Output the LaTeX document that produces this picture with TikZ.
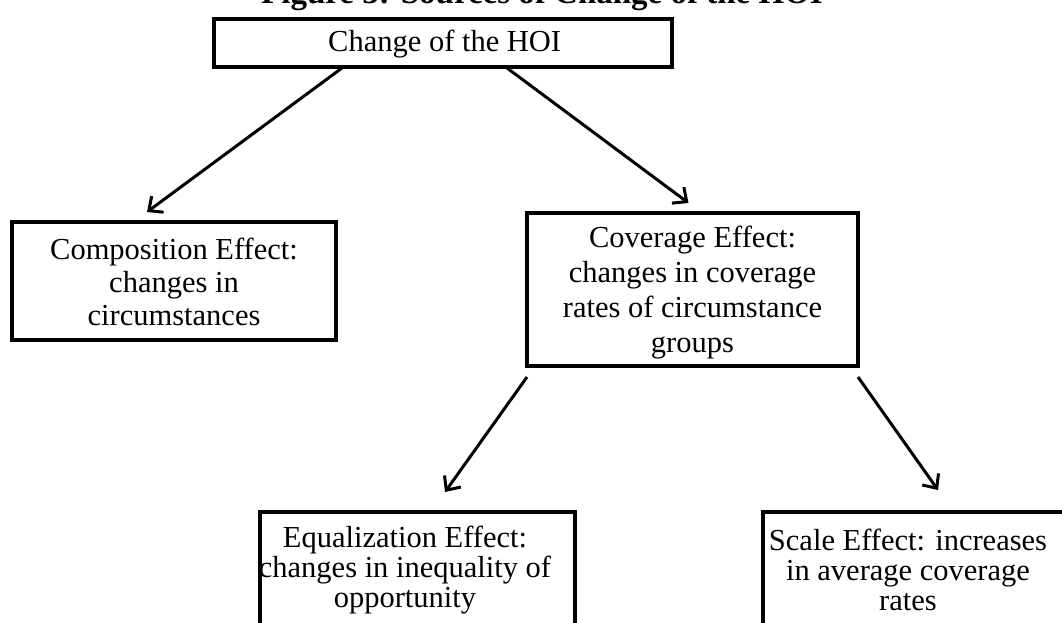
\documentclass[tikz,border=0pt]{standalone}
\usepackage{fontspec}
\setmainfont{Liberation Serif}
\usetikzlibrary{arrows.meta}
\tikzset{
  boxnode/.style={draw=black, line width=3.5pt, inner sep=0pt, outer sep=0pt},
  txt/.style={font=\fontsize{30.5}{33}\selectfont, inner sep=0pt, align=center},
  arr/.style={line width=3pt, -{Straight Barb[length=11pt,width=20pt,line width=3pt]}}
}
\begin{document}
\begin{tikzpicture}[x=1pt,y=-1pt]
\useasboundingbox (0,0) rectangle (1062,623);
\clip (0,0) rectangle (1062,623);
% title
\node[anchor=base west, inner sep=0pt, font=\fontsize{33}{36}\selectfont\bfseries] (title) at (261,4) {Figure 3: Sources of Change of the HOI};
% boxes
\node[boxnode, minimum width=458pt, minimum height=48pt] (top) at (443,43) {};
\node[boxnode, minimum width=324pt, minimum height=118pt] (comp) at (174,281) {};
\node[boxnode, minimum width=331pt, minimum height=153pt] (cov) at (692.5,289.5) {};
\node[boxnode, minimum width=315pt, minimum height=138pt] (eq) at (417.5,581) {};
\node[boxnode, minimum width=307pt, minimum height=138pt] (scale) at (916.5,581) {};
% texts (anchor=base is the baseline of the last line)
\node[txt, anchor=base west] (toptxt) at (328,52) {Change of the HOI};
\node[txt, anchor=base, font=\fontsize{30.5}{33}\selectfont] (comptxt) at (174,325) {Composition Effect:\\changes in\\circumstances};
\node[txt, anchor=base, font=\fontsize{30.5}{35}\selectfont] (covtxt) at (692.5,352) {Coverage Effect:\\changes in coverage\\rates of circumstance\\groups};
\node[txt, anchor=base, font=\fontsize{30.5}{30}\selectfont] (eqtxt) at (405,607) {Equalization Effect:\\changes in inequality of\\opportunity};
\node[txt, anchor=base, font=\fontsize{30.5}{30}\selectfont] (scaletxt) at (908,610) {Scale Effect: increases\\in average coverage\\rates};
% arrows
\draw[arr] ([xshift=128pt,yshift=-1pt]top.south west) -- ([xshift=-27pt,yshift=10pt]comp.north);
\draw[arr] ([xshift=293pt,yshift=-1pt]top.south west) -- ([xshift=-4pt,yshift=10pt]cov.north);
\draw[arr] ([yshift=-11pt]cov.south west) -- ([xshift=27.5pt,yshift=20pt]eq.north);
\draw[arr] ([yshift=-11pt]cov.south east) -- ([xshift=21.5pt,yshift=22pt]scale.north);
\end{tikzpicture}
\end{document}
